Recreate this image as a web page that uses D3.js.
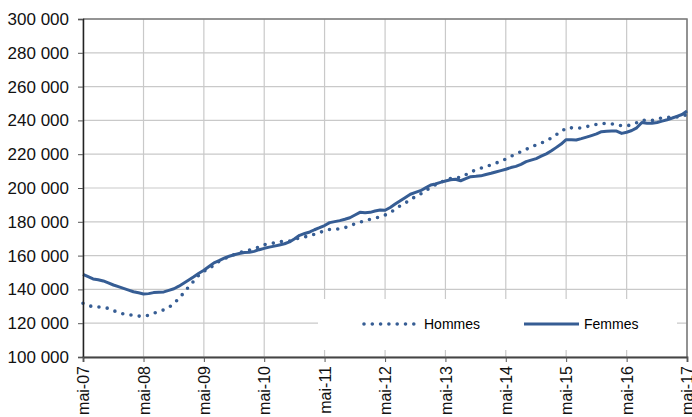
<!DOCTYPE html>
<html lang="fr">
<head>
<meta charset="UTF-8">
<title>Hommes / Femmes</title>
<style>
  body { margin: 0; background: #fff; }
  svg { display: block; font-family: "Liberation Sans", Arial, sans-serif; }
</style>
</head>
<body>
<svg id="chart" width="692" height="417"></svg>
<script src="https://d3js.org/d3.v7.min.js"></script>
<script>
// monthly values, mai-07 .. mai-17
const startMonth = new Date(2007, 4, 1);

const hommes = [
  131800, 130500, 129700, 129600, 129300, 128800, 127500, 126300, 125500, 125000,
  124700, 124200, 124100, 124700, 125800, 127000, 127900, 129300, 131800, 134500,
  138200, 141800, 144900, 148500, 150800, 152000, 154500, 156600, 158100, 159500,
  160600, 161800, 162500, 163300, 163900, 165200, 166500, 167000, 167500, 168300,
  168500, 168600, 169500, 170500, 171100, 171700, 172700, 173600, 174800, 175500,
  175600, 175900, 176500, 177700, 178800, 179700, 180800, 181500, 182200, 182900,
  184000, 185500, 187400, 189500, 191200, 193000, 195000, 196400, 198400, 200200,
  201900, 203300, 204600, 205600, 206100, 206300, 207800, 209600, 210600, 211700,
  212700, 213700, 214700, 215800, 217200, 218700, 220300, 221400, 222800, 224400,
  225400, 226600, 228000, 229600, 231500, 233200, 235600, 235600, 235300, 235600,
  236300, 237000, 237700, 238200, 238200, 238000, 237200, 236900, 236800, 237400,
  238600, 240200, 240000, 239900, 240800, 241500, 241800, 241800, 242000, 242500,
  243500
];

const femmes = [
  148900, 147500, 146200, 145700, 145000, 143800, 142600, 141600, 140600, 139600,
  138600, 138000, 137300, 137500, 138100, 138300, 138500, 139400, 140400, 141900,
  143800, 145700, 147500, 149600, 151300, 153500, 155700, 157000, 158500, 159600,
  160500, 161200, 161800, 162000, 162500, 163500, 164300, 165000, 165600, 166300,
  167000, 168100, 170000, 172000, 173100, 174000, 175300, 176500, 177800, 179500,
  180100, 180700, 181500, 182400, 184000, 185600, 185400, 185600, 186400, 187000,
  186800, 188500, 190500, 192500, 194400, 196300, 197400, 198400, 200100, 201800,
  202400, 203300, 204100, 204900, 205200, 204300, 205500, 206700, 206900, 207200,
  208000, 208700, 209500, 210300, 211100, 212100, 212800, 214000, 215600, 216500,
  217400, 218800, 220200, 222000, 223900, 226000, 228600, 228500, 228400, 229200,
  230100, 231000, 232000, 233300, 233600, 233700, 233700, 232300, 233000, 234000,
  235600, 238800, 238300, 238300, 238800, 239600, 240400, 241400, 242400, 243500,
  245500
];

const yTicks = [100000, 120000, 140000, 160000, 180000, 200000, 220000, 240000, 260000, 280000, 300000];
const xTickYears = [2007, 2008, 2009, 2010, 2011, 2012, 2013, 2014, 2015, 2016, 2017];

const seriesNames = ["Hommes", "Femmes"];
const lineColor = "#365d94";

const width = 692, height = 417;
const margin = { top: 19, right: 5, bottom: 60, left: 83 };

const svg = d3.select("#chart");

const x = d3.scaleTime()
  .domain([startMonth, new Date(2017, 4, 1)])
  .range([margin.left, width - margin.right]);

const y = d3.scaleLinear()
  .domain([100000, 300000])
  .range([height - margin.bottom, margin.top]);

const dates = hommes.map((d, i) => d3.timeMonth.offset(startMonth, i));
const xTicks = xTickYears.map(yr => new Date(yr, 4, 1));

// grid
svg.append("g")
  .selectAll("line.h")
  .data(yTicks)
  .join("line")
  .attr("x1", margin.left).attr("x2", width - margin.right)
  .attr("y1", d => y(d)).attr("y2", d => y(d))
  .attr("stroke", "#c9c9c9").attr("stroke-width", 1.2);

svg.append("g")
  .selectAll("line.v")
  .data(xTicks)
  .join("line")
  .attr("x1", d => x(d)).attr("x2", d => x(d))
  .attr("y1", margin.top).attr("y2", height - margin.bottom)
  .attr("stroke", "#c9c9c9").attr("stroke-width", 1.2);

// frame top/right
svg.append("path")
  .attr("d", `M${margin.left},${margin.top}H${width - margin.right}V${height - margin.bottom}`)
  .attr("fill", "none").attr("stroke", "#7a7a7a").attr("stroke-width", 1.5);

// lines
const line = d3.line()
  .x((d, i) => x(dates[i]))
  .y(d => y(d));

svg.append("path")
  .datum(femmes)
  .attr("d", line)
  .attr("fill", "none")
  .attr("stroke", lineColor)
  .attr("stroke-width", 3)
  .attr("stroke-linejoin", "round");

svg.append("path")
  .datum(hommes)
  .attr("d", line)
  .attr("fill", "none")
  .attr("stroke", lineColor)
  .attr("stroke-width", 3.6)
  .attr("stroke-linecap", "round")
  .attr("stroke-dasharray", "0,8.3");

// legend (white box over the grid)
const lg = svg.append("g");
lg.append("rect")
  .attr("x", 318).attr("y", 299).attr("width", 359).attr("height", 51)
  .attr("fill", "#fff");
lg.append("line")
  .attr("x1", 364).attr("x2", 417).attr("y1", 324).attr("y2", 324)
  .attr("stroke", lineColor).attr("stroke-width", 3.6)
  .attr("stroke-linecap", "round").attr("stroke-dasharray", "0,8.3");
lg.append("text")
  .attr("x", 424).attr("y", 324).attr("dy", "0.35em")
  .attr("font-size", 14).attr("fill", "#000")
  .text(seriesNames[0]);
lg.append("line")
  .attr("x1", 524).attr("x2", 579).attr("y1", 324).attr("y2", 324)
  .attr("stroke", lineColor).attr("stroke-width", 3);
lg.append("text")
  .attr("x", 584).attr("y", 324).attr("dy", "0.35em")
  .attr("font-size", 14).attr("fill", "#000")
  .text(seriesNames[1]);

// axes
const fmt = d => d3.format(",")(d).replace(/,/g, " ");

const yAxis = svg.append("g")
  .attr("transform", `translate(${margin.left},0)`)
  .call(d3.axisLeft(y).tickValues(yTicks).tickFormat(fmt).tickSize(5).tickPadding(9));
yAxis.select(".domain").attr("stroke", "#222").attr("stroke-width", 1.5);
yAxis.selectAll(".tick line").attr("stroke", "#555");
yAxis.selectAll("text").attr("font-size", 17).attr("fill", "#111")
  .attr("font-family", "Liberation Sans, Arial, sans-serif");

const xAxis = svg.append("g")
  .attr("transform", `translate(0,${height - margin.bottom})`)
  .call(d3.axisBottom(x).tickValues(xTicks)
    .tickFormat(d => "mai-" + d3.timeFormat("%y")(d)).tickSize(5));
xAxis.select(".domain").attr("stroke", "#444").attr("stroke-width", 1.8);
xAxis.selectAll(".tick line").attr("stroke", "#555");
xAxis.selectAll("text")
  .attr("font-size", 16).attr("fill", "#111")
  .attr("font-family", "Liberation Sans, Arial, sans-serif")
  .attr("transform", "rotate(-90)")
  .attr("x", -9).attr("y", 0).attr("dy", "0.35em")
  .style("text-anchor", "end");
</script>
</body>
</html>
